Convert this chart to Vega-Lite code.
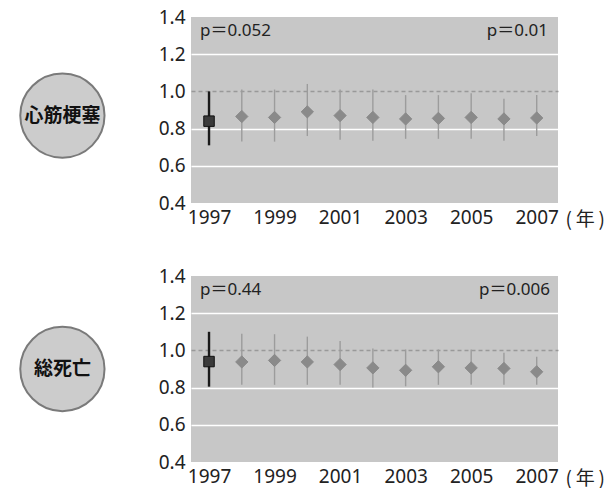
{
  "$schema": "https://vega.github.io/schema/vega-lite/v6.json",
  "padding": {"left": 0, "top": 8, "right": 0, "bottom": 0},
  "background": "white",
  "config": {
    "view": {"stroke": null},
    "font": "Noto Sans",
    "axisY": {
      "values": [0.4, 0.6, 0.8, 1.0, 1.2, 1.4],
      "format": ".1f",
      "title": null,
      "ticks": false,
      "domain": false,
      "labelPadding": 6,
      "labelFontSize": 19,
      "labelColor": "#222222",
      "grid": true,
      "gridWidth": 1.5,
      "gridColor": {"condition": {"test": "datum.value > 0.95 && datum.value < 1.05", "value": "#999999"}, "value": "#ffffff"},
      "gridDash": {"condition": {"test": "datum.value > 0.95 && datum.value < 1.05", "value": [4, 3]}, "value": []},
      "gridOpacity": {"condition": {"test": "datum.value < 0.5 || datum.value > 1.3", "value": 0}, "value": 1}
    },
    "axisX": {
      "values": [1997, 1999, 2001, 2003, 2005, 2007],
      "format": "d",
      "grid": false,
      "ticks": false,
      "domain": false,
      "labelPadding": 5,
      "labelFontSize": 19,
      "labelColor": "#222222",
      "titleFont": "Noto Sans CJK JP",
      "titleFontWeight": "normal",
      "titleFontSize": 19,
      "titleColor": "#222222",
      "titleAnchor": "start",
      "titleAlign": "left",
      "titleBaseline": "middle",
      "titleX": 374,
      "titleY": 16
    }
  },
  "datasets": {
    "pts": [
      {"panel": "mi", "year": 1997, "or": 0.84, "lo": 0.71, "hi": 1.0},
      {"panel": "mi", "year": 1998, "or": 0.865, "lo": 0.73, "hi": 1.01},
      {"panel": "mi", "year": 1999, "or": 0.86, "lo": 0.73, "hi": 1.01},
      {"panel": "mi", "year": 2000, "or": 0.89, "lo": 0.76, "hi": 1.04},
      {"panel": "mi", "year": 2001, "or": 0.87, "lo": 0.74, "hi": 1.01},
      {"panel": "mi", "year": 2002, "or": 0.86, "lo": 0.735, "hi": 1.01},
      {"panel": "mi", "year": 2003, "or": 0.852, "lo": 0.745, "hi": 0.98},
      {"panel": "mi", "year": 2004, "or": 0.855, "lo": 0.745, "hi": 0.98},
      {"panel": "mi", "year": 2005, "or": 0.86, "lo": 0.745, "hi": 0.99},
      {"panel": "mi", "year": 2006, "or": 0.852, "lo": 0.735, "hi": 0.96},
      {"panel": "mi", "year": 2007, "or": 0.857, "lo": 0.76, "hi": 0.98},
      {"panel": "all", "year": 1997, "or": 0.94, "lo": 0.805, "hi": 1.1},
      {"panel": "all", "year": 1998, "or": 0.938, "lo": 0.815, "hi": 1.09},
      {"panel": "all", "year": 1999, "or": 0.946, "lo": 0.815, "hi": 1.087},
      {"panel": "all", "year": 2000, "or": 0.938, "lo": 0.815, "hi": 1.074},
      {"panel": "all", "year": 2001, "or": 0.924, "lo": 0.815, "hi": 1.05},
      {"panel": "all", "year": 2002, "or": 0.906, "lo": 0.8, "hi": 1.01},
      {"panel": "all", "year": 2003, "or": 0.893, "lo": 0.807, "hi": 1.005},
      {"panel": "all", "year": 2004, "or": 0.912, "lo": 0.815, "hi": 1.005},
      {"panel": "all", "year": 2005, "or": 0.906, "lo": 0.815, "hi": 1.005},
      {"panel": "all", "year": 2006, "or": 0.903, "lo": 0.815, "hi": 0.988},
      {"panel": "all", "year": 2007, "or": 0.885, "lo": 0.815, "hi": 0.966}
    ],
    "plabels": [
      {"panel": "mi", "side": "left", "label": "p＝0.052"},
      {"panel": "mi", "side": "right", "label": "p＝0.01"},
      {"panel": "all", "side": "left", "label": "p＝0.44"},
      {"panel": "all", "side": "right", "label": "p＝0.006"}
    ]
  },
  "columns": 2,
  "spacing": {"row": 73, "column": 71},
  "bounds": "flush",
  "concat": [
    {
      "width": 120,
      "height": 186,
      "data": {"values": [{"name": "心筋梗塞"}]},
      "encoding": {
        "x": {"datum": 0.52, "type": "quantitative", "scale": {"domain": [0, 1]}, "axis": null},
        "y": {"datum": 0.47, "type": "quantitative", "scale": {"domain": [0, 1]}, "axis": null}
      },
      "layer": [
        {"mark": {"type": "point", "shape": "circle", "filled": true, "fill": "#cccccc", "stroke": "#7a7a7a", "strokeWidth": 2, "size": 7100, "opacity": 1}},
        {"mark": {"type": "text", "font": "Noto Sans CJK JP", "fontWeight": "bold", "fontSize": 19, "color": "#111111", "align": "center", "baseline": "middle"}, "encoding": {"text": {"field": "name"}}}
      ]
    },
    {
      "width": 367,
      "height": 186,
      "view": {"fill": "#c7c7c7", "stroke": null},
      "layer": [
        {
          "data": {"name": "pts"},
          "transform": [{"filter": "datum.panel === 'mi'"}],
          "mark": {"type": "rule"},
          "encoding": {
            "x": {"field": "year", "type": "quantitative", "scale": {"domain": [1996.45, 2007.65], "nice": false, "zero": false}, "axis": {"title": "(\u2009年\u2009)"}},
            "y": {"field": "lo", "type": "quantitative", "scale": {"domain": [0.4, 1.4], "nice": false, "zero": false}},
            "y2": {"field": "hi"},
            "color": {"condition": {"test": "datum.year === 1997", "value": "#1a1a1a"}, "value": "#9c9c9c"},
            "strokeWidth": {"condition": {"test": "datum.year === 1997", "value": 2.4}, "value": 1.4}
          }
        },
        {
          "data": {"name": "pts"},
          "transform": [{"filter": "datum.panel === 'mi'"}],
          "mark": {"type": "point", "filled": true, "opacity": 1, "strokeWidth": 1},
          "encoding": {
            "x": {"field": "year", "type": "quantitative"},
            "y": {"field": "or", "type": "quantitative"},
            "shape": {"condition": {"test": "datum.year === 1997", "value": "square"}, "value": "diamond"},
            "size": {"condition": {"test": "datum.year === 1997", "value": 110}, "value": 150},
            "color": {"condition": {"test": "datum.year === 1997", "value": "#3a3a3a"}, "value": "#8a8a8a"},
            "stroke": {"condition": {"test": "datum.year === 1997", "value": "#111111"}, "value": "#8a8a8a"}
          }
        },
        {
          "data": {"name": "plabels"},
          "transform": [{"filter": "datum.panel === 'mi' && datum.side === 'left'"}],
          "mark": {"type": "text", "align": "left", "baseline": "middle", "dx": 9, "dy": 14, "fontSize": 17, "font": "Noto Sans, Noto Sans CJK JP", "fill": "#222222"},
          "encoding": {"x": {"datum": 1996.45, "type": "quantitative"}, "y": {"datum": 1.4, "type": "quantitative"}, "text": {"field": "label", "type": "nominal"}}
        },
        {
          "data": {"name": "plabels"},
          "transform": [{"filter": "datum.panel === 'mi' && datum.side === 'right'"}],
          "mark": {"type": "text", "align": "right", "baseline": "middle", "dx": -10, "dy": 14, "fontSize": 17, "font": "Noto Sans, Noto Sans CJK JP", "fill": "#222222"},
          "encoding": {"x": {"datum": 2007.65, "type": "quantitative"}, "y": {"datum": 1.4, "type": "quantitative"}, "text": {"field": "label", "type": "nominal"}}
        }
      ]
    },
    {
      "width": 120,
      "height": 186,
      "data": {"values": [{"name": "総死亡"}]},
      "encoding": {
        "x": {"datum": 0.52, "type": "quantitative", "scale": {"domain": [0, 1]}, "axis": null},
        "y": {"datum": 0.5, "type": "quantitative", "scale": {"domain": [0, 1]}, "axis": null}
      },
      "layer": [
        {"mark": {"type": "point", "shape": "circle", "filled": true, "fill": "#cccccc", "stroke": "#7a7a7a", "strokeWidth": 2, "size": 7100, "opacity": 1}},
        {"mark": {"type": "text", "font": "Noto Sans CJK JP", "fontWeight": "bold", "fontSize": 19, "color": "#111111", "align": "center", "baseline": "middle"}, "encoding": {"text": {"field": "name"}}}
      ]
    },
    {
      "width": 367,
      "height": 186,
      "view": {"fill": "#c7c7c7", "stroke": null},
      "layer": [
        {
          "data": {"name": "pts"},
          "transform": [{"filter": "datum.panel === 'all'"}],
          "mark": {"type": "rule"},
          "encoding": {
            "x": {"field": "year", "type": "quantitative", "scale": {"domain": [1996.45, 2007.65], "nice": false, "zero": false}, "axis": {"title": "(\u2009年\u2009)"}},
            "y": {"field": "lo", "type": "quantitative", "scale": {"domain": [0.4, 1.4], "nice": false, "zero": false}},
            "y2": {"field": "hi"},
            "color": {"condition": {"test": "datum.year === 1997", "value": "#1a1a1a"}, "value": "#9c9c9c"},
            "strokeWidth": {"condition": {"test": "datum.year === 1997", "value": 2.4}, "value": 1.4}
          }
        },
        {
          "data": {"name": "pts"},
          "transform": [{"filter": "datum.panel === 'all'"}],
          "mark": {"type": "point", "filled": true, "opacity": 1, "strokeWidth": 1},
          "encoding": {
            "x": {"field": "year", "type": "quantitative"},
            "y": {"field": "or", "type": "quantitative"},
            "shape": {"condition": {"test": "datum.year === 1997", "value": "square"}, "value": "diamond"},
            "size": {"condition": {"test": "datum.year === 1997", "value": 110}, "value": 150},
            "color": {"condition": {"test": "datum.year === 1997", "value": "#3a3a3a"}, "value": "#8a8a8a"},
            "stroke": {"condition": {"test": "datum.year === 1997", "value": "#111111"}, "value": "#8a8a8a"}
          }
        },
        {
          "data": {"name": "plabels"},
          "transform": [{"filter": "datum.panel === 'all' && datum.side === 'left'"}],
          "mark": {"type": "text", "align": "left", "baseline": "middle", "dx": 9, "dy": 14, "fontSize": 17, "font": "Noto Sans, Noto Sans CJK JP", "fill": "#222222"},
          "encoding": {"x": {"datum": 1996.45, "type": "quantitative"}, "y": {"datum": 1.4, "type": "quantitative"}, "text": {"field": "label", "type": "nominal"}}
        },
        {
          "data": {"name": "plabels"},
          "transform": [{"filter": "datum.panel === 'all' && datum.side === 'right'"}],
          "mark": {"type": "text", "align": "right", "baseline": "middle", "dx": -8, "dy": 14, "fontSize": 17, "font": "Noto Sans, Noto Sans CJK JP", "fill": "#222222"},
          "encoding": {"x": {"datum": 2007.65, "type": "quantitative"}, "y": {"datum": 1.4, "type": "quantitative"}, "text": {"field": "label", "type": "nominal"}}
        }
      ]
    }
  ]
}
